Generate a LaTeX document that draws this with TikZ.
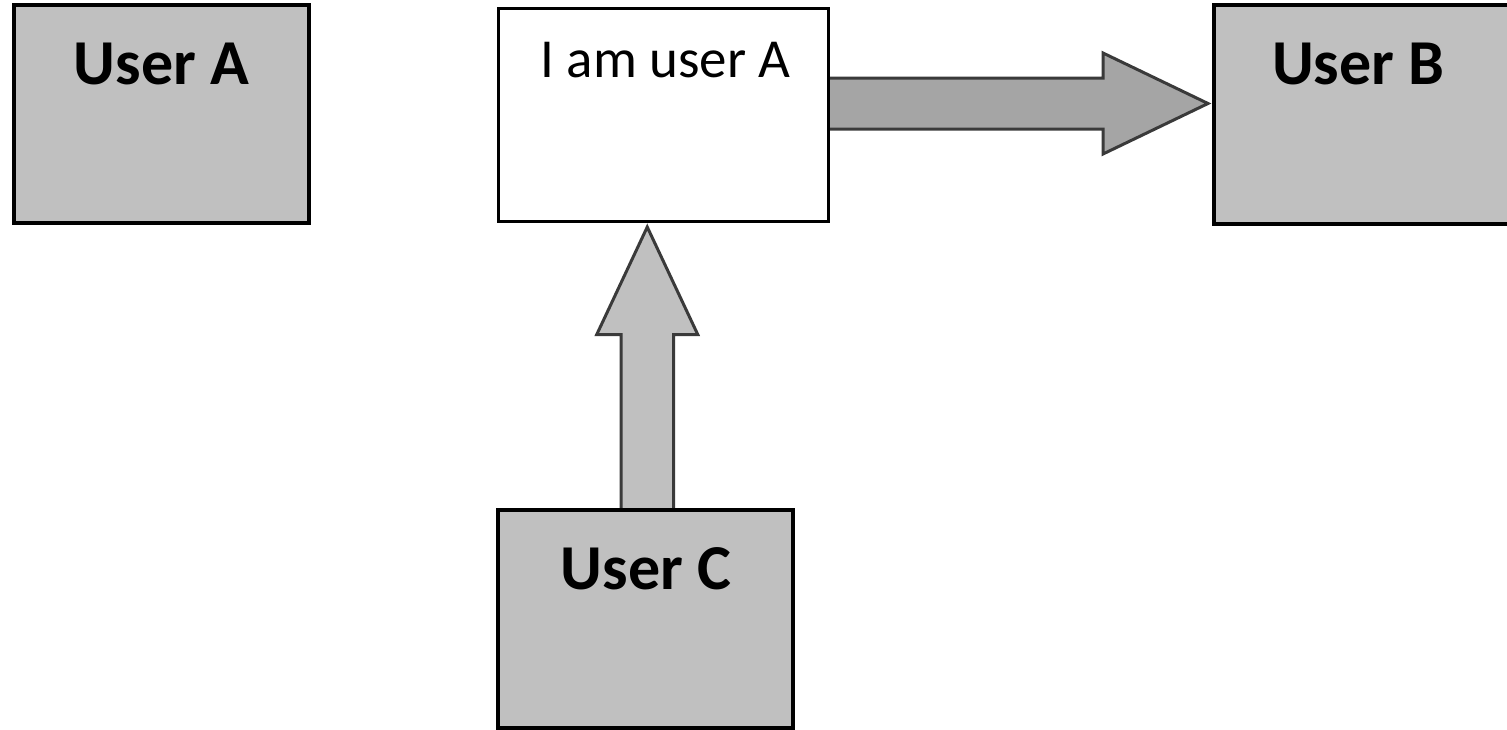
\documentclass[tikz,border=0pt]{standalone}
\usepackage{fontspec}
\setmainfont{Carlito}
\usetikzlibrary{calc,backgrounds}
\definecolor{boxgray}{HTML}{C0C0C0}
\definecolor{arrowgray}{HTML}{A5A5A5}
\definecolor{arrowline}{HTML}{3A3A3A}
\tikzset{
  userbox/.style={draw=black, fill=boxgray, line width=4pt, rectangle, inner sep=0pt,
                  minimum width=295pt},
  msgbox/.style={draw=black, fill=white, line width=3pt, rectangle, inner sep=0pt},
  usertext/.style={anchor=base, inner sep=0pt, font=\fontsize{64}{70}\selectfont\bfseries},
  msgtext/.style={anchor=base, inner sep=0pt, font=\fontsize{55}{60}\selectfont},
  blockarrow/.style={draw=arrowline, line width=3pt, line join=miter},
}
\begin{document}
\begin{tikzpicture}[x=1pt, y=-1pt]
\useasboundingbox (0,0) rectangle (1507,729);

% the three users and the message box
\node[userbox, minimum height=218pt] (ua) at (161.5,114) {};
\node[userbox, minimum height=219pt] (ub) at (1361.5,114.5) {};
\node[userbox, minimum height=217.5pt] (uc) at (645.5,618.75) {};
\node[msgbox, minimum width=330pt, minimum height=213pt] (msg) at (663.5,115) {};

% captions near the top of each box
\node[usertext] (ta) at ($(ua.north)+(0,81)$) {User A};
\node[usertext] (tb) at ($(ub.north)+(-3,81)$) {User B};
\node[usertext] (tc) at ($(uc.north)+(0.5,81.5)$) {User C};
\node[msgtext] (tm) at ($(msg.north)+(2,70.5)$) {I am user A};

% block arrows, kept behind the boxes
\begin{scope}[on background layer]
  % message box -> User B
  \coordinate (r0) at ($(msg.east)+(0,-11.5)$);
  \coordinate (r1) at (r0 -| ub.west);
  \draw[blockarrow, fill=arrowgray]
    ($(r0)+(0,-25.5)$) -- ($(r1)+(-109,-25.5)$) -- ($(r1)+(-109,-50.5)$)
    -- ($(r1)+(-4,0)$)
    -- ($(r1)+(-109,50.5)$) -- ($(r1)+(-109,25.5)$) -- ($(r0)+(0,25.5)$);
  % User C -> message box
  \coordinate (u0) at ($(uc.north)+(1.75,0)$);
  \coordinate (u1) at (u0 |- msg.south);
  \draw[blockarrow, fill=boxgray]
    ($(u0)+(-26.25,0)$) -- ($(u1)+(-26.25,111.5)$) -- ($(u1)+(-50.5,111.5)$)
    -- ($(u1)+(0,4)$)
    -- ($(u1)+(50.5,111.5)$) -- ($(u1)+(26.25,111.5)$) -- ($(u0)+(26.25,0)$);
\end{scope}
\end{tikzpicture}
\end{document}
